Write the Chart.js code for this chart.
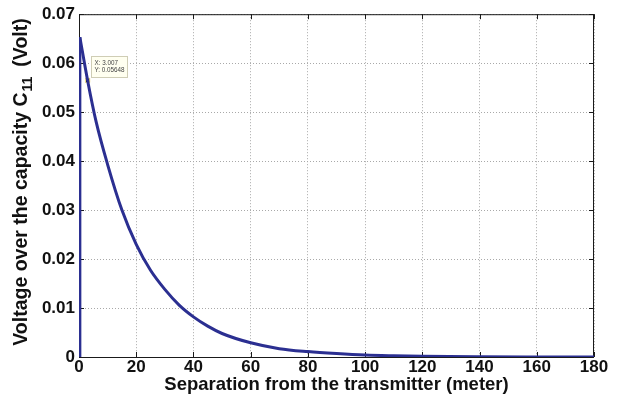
<!DOCTYPE html>
<html>
<head>
<meta charset="utf-8">
<script src="https://cdn.jsdelivr.net/npm/chart.js@4.4.0/dist/chart.umd.min.js"></script>
<style>
  html, body { margin: 0; padding: 0; background: #fff; }
  #wrap { width: 633px; height: 399px; position: relative; }
</style>
</head>
<body>
<div id="wrap"><canvas id="voltChart"></canvas></div>
<script>
// --- data ---
const riseDistance = [0, 0.3];
const riseVoltage = [0, 0.0653];
const distance = [0.3, 3.007, 6, 10, 15, 20, 25, 30, 35, 40, 45, 50, 60, 70, 80, 90, 100, 110, 120, 140, 160, 180];
const voltage = [0.0653, 0.05648, 0.0480, 0.0393, 0.0300, 0.0230, 0.0177, 0.0138, 0.0106, 0.0082, 0.0063, 0.0048,
                 0.0029, 0.0017, 0.0011, 0.0007, 0.0004, 0.00025, 0.00015, 0.00006, 0.00002, 0.00001];
const xTicks = [0, 20, 40, 60, 80, 100, 120, 140, 160, 180];
const yTicks = [0, 0.01, 0.02, 0.03, 0.04, 0.05, 0.06, 0.07];
const yTickLabels = ['0', '0.01', '0.02', '0.03', '0.04', '0.05', '0.06', '0.07'];
const tipPoint = { x: 3.007, y: 0.05648 };
const tipLines = ['X: 3.007', 'Y: 0.05648'];
const xTitle = 'Separation from the transmitter (meter)';
const yTitleParts = ['Voltage over the capacity C', '11', '(Volt)'];

const toPoints = (xs, ys) => xs.map((d, i) => ({ x: d, y: ys[i] }));
const FONT = '"Liberation Sans", Arial, sans-serif';
const LINE_COLOR = '#2b2f91';

// frame with inward tick marks (matlab style)
const framePlugin = {
    id: 'frame',
    beforeDatasetsDraw(chart) {
        const { ctx, chartArea: a, scales } = chart;
        ctx.save();
        ctx.strokeStyle = '#1a1a1a';
        ctx.lineWidth = 1;
        ctx.strokeRect(a.left + 0.5, a.top + 0.5, a.right - a.left - 1, a.bottom - a.top);
        ctx.beginPath();
        xTicks.forEach(v => {
            const px = Math.round(scales.x.getPixelForValue(v)) + 0.5;
            ctx.moveTo(px, a.bottom); ctx.lineTo(px, a.bottom - 5);
            ctx.moveTo(px, a.top); ctx.lineTo(px, a.top + 5);
        });
        yTicks.forEach(v => {
            const py = Math.round(scales.y.getPixelForValue(v)) + 0.5;
            ctx.moveTo(a.left, py); ctx.lineTo(a.left + 5, py);
            ctx.moveTo(a.right, py); ctx.lineTo(a.right - 5, py);
        });
        ctx.stroke();
        ctx.restore();
    },
    afterDraw(chart) {
        const { ctx, scales } = chart;
        ctx.save();
        // y title with subscript
        ctx.fillStyle = '#111';
        const big = 'bold 19.5px ' + FONT;
        const small = 'bold 14px ' + FONT;
        const gap = 10;
        ctx.font = big;
        const w1 = ctx.measureText(yTitleParts[0]).width;
        const w3 = ctx.measureText(yTitleParts[2]).width;
        ctx.font = small;
        const w2 = ctx.measureText(yTitleParts[1]).width;
        const total = w1 + 1 + w2 + gap + w3;
        ctx.translate(27, 182);
        ctx.rotate(-Math.PI / 2);
        ctx.textBaseline = 'alphabetic';
        ctx.textAlign = 'left';
        const x0 = -total / 2;
        ctx.font = big;
        ctx.fillText(yTitleParts[0], x0, 0);
        ctx.font = small;
        ctx.fillText(yTitleParts[1], x0 + w1 + 1, 5);
        ctx.font = big;
        ctx.fillText(yTitleParts[2], x0 + w1 + 1 + w2 + gap, 0);
        ctx.restore();

        // data tip box
        const px = scales.x.getPixelForValue(tipPoint.x);
        const py = scales.y.getPixelForValue(tipPoint.y);
        ctx.save();
        const bx = Math.round(px + 3) + 0.5, by = Math.round(py - 24) + 0.5;
        ctx.fillStyle = '#fffff0';
        ctx.strokeStyle = '#cfcdb5';
        ctx.lineWidth = 1;
        ctx.fillRect(bx, by, 36, 21);
        ctx.strokeRect(bx, by, 36, 21);
        ctx.fillStyle = '#444';
        ctx.font = '6.3px ' + FONT;
        ctx.textBaseline = 'middle';
        ctx.fillText(tipLines[0], bx + 3, by + 6.5);
        ctx.fillText(tipLines[1], bx + 3, by + 14);
        ctx.restore();
    }
};

const ctx = document.getElementById('voltChart').getContext('2d');
new Chart(ctx, {
    type: 'line',
    data: {
        datasets: [
            {
                label: 'rise',
                data: toPoints(riseDistance, riseVoltage),
                borderColor: LINE_COLOR,
                borderWidth: 3,
                pointRadius: 0,
                tension: 0,
                fill: false
            },
            {
                label: 'V_C11',
                data: toPoints(distance, voltage),
                borderColor: LINE_COLOR,
                borderWidth: 3,
                pointRadius: 0,
                cubicInterpolationMode: 'monotone',
                fill: false
            },
            {
                label: 'tip',
                data: [tipPoint],
                showLine: false,
                pointStyle: 'rect',
                pointRadius: 3,
                pointBackgroundColor: '#000',
                pointBorderColor: '#efe08a',
                pointBorderWidth: 1
            }
        ]
    },
    options: {
        responsive: true,
        maintainAspectRatio: false,
        animation: false,
        layout: { padding: { top: 10, right: 39, left: 0, bottom: 0 } },
        plugins: {
            legend: { display: false },
            tooltip: { enabled: false }
        },
        scales: {
            x: {
                type: 'linear',
                min: 0,
                max: 180,
                afterBuildTicks: scale => { scale.ticks = xTicks.map(v => ({ value: v })); },
                afterFit: scale => { scale.height = 42; },
                ticks: {
                    padding: 0,
                    color: '#111',
                    font: { family: FONT, size: 17, weight: 'bold' },
                    maxRotation: 0
                },
                grid: { color: '#a9a9a9', lineWidth: 1, drawTicks: false },
                border: { display: false, dash: [1, 2] },
                title: {
                    display: true,
                    text: xTitle,
                    color: '#111',
                    font: { family: FONT, size: 18.5, weight: 'bold' },
                    padding: { top: 0, bottom: 3 }
                }
            },
            y: {
                min: 0,
                max: 0.07,
                afterBuildTicks: scale => { scale.ticks = yTicks.map(v => ({ value: v })); },
                afterFit: scale => { scale.width = 79; },
                ticks: {
                    padding: 4,
                    color: '#111',
                    font: { family: FONT, size: 17, weight: 'bold' },
                    callback: (value, i) => yTickLabels[i]
                },
                grid: { color: '#a9a9a9', lineWidth: 1, drawTicks: false },
                border: { display: false, dash: [1, 2] }
            }
        }
    },
    plugins: [framePlugin]
});
</script>
</body>
</html>
